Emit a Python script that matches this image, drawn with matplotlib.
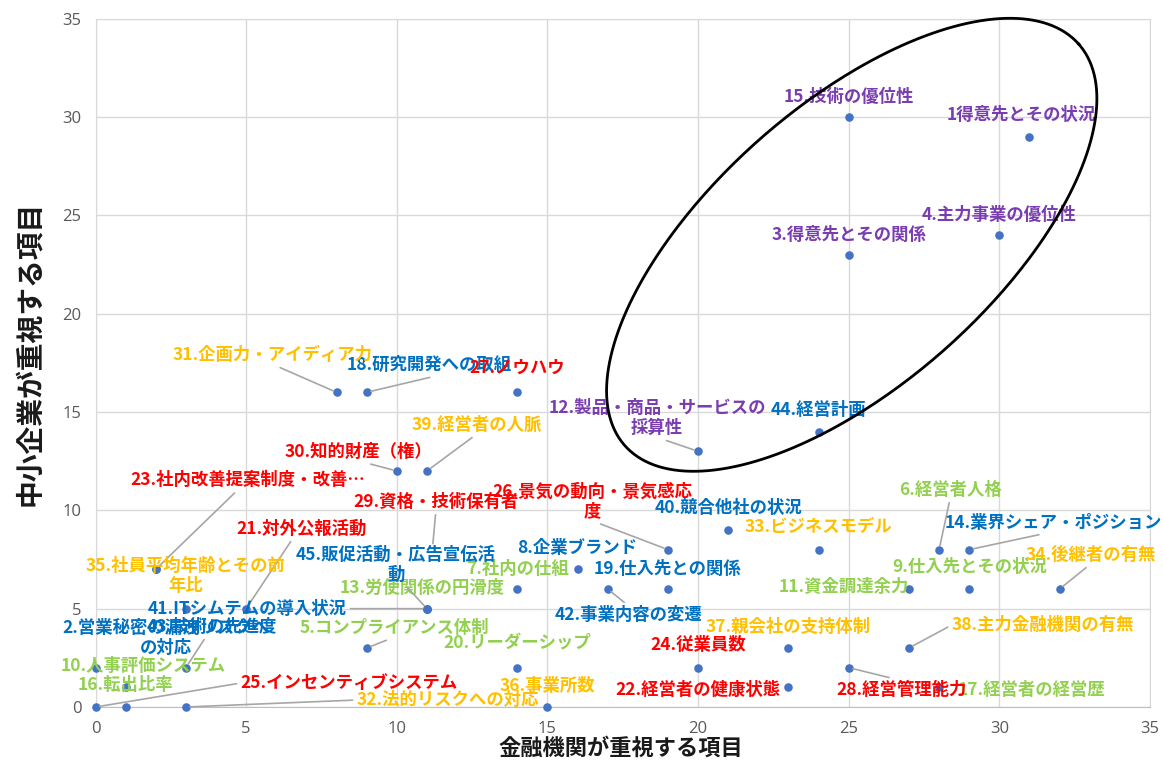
import numpy as np
import matplotlib
matplotlib.use('Agg')
import matplotlib.pyplot as plt

plt.rcParams['font.family'] = ['Noto Sans CJK JP', 'DejaVu Sans']

# ---------------- data ----------------
labels = [
    "1得意先とその状況", "2.営業秘密の漏洩リスクへ\nの対応", "3.得意先とその関係", "4.主力事業の優位性",
    "5.コンプライアンス体制", "6.経営者人格", "7.社内の仕組", "8.企業ブランド", "9.仕入先とその状況",
    "10.人事評価システム", "11.資金調達余力", "12.製品・商品・サービスの\n採算性", "13.労使関係の円滑度",
    "14.業界シェア・ポジション", "15.技術の優位性", "16.転出比率", "17.経営者の経営歴", "18.研究開発への取組",
    "19.仕入先との関係", "20.リーダーシップ", "21.対外公報活動", "22.経営者の健康状態",
    "23.社内改善提案制度・改善…", "24.従業員数", "25.インセンティブシステム", "26.景気の動向・景気感応\n度",
    "27.ノウハウ", "28.経営管理能力", "29.資格・技術保有者", "30.知的財産（権）", "31.企画力・アイディア力",
    "32.法的リスクへの対応", "33.ビジネスモデル", "34.後継者の有無", "35.社員平均年齢とその前\n年比",
    "36.事業所数", "37.親会社の支持体制", "38.主力金融機関の有無", "39.経営者の人脈", "40.競合他社の状況",
    "41.ITシムテムの導入状況", "42.事業内容の変遷", "43.技術の先進度", "44.経営計画", "45.販促活動・広告宣伝活\n動",
]
# 金融機関が重視する項目 (x)
fin_x = [31, 3, 25, 30, 9, 28, 14, 16, 29, 0, 27, 20, 1, 29, 25, 1, 28, 9, 19, 14, 5, 23, 2, 20, 0,
         19, 14, 25, 11, 10, 8, 3, 24, 32, 2, 15, 23, 27, 11, 21, 11, 17, 3, 24, 11]
# 中小企業が重視する項目 (y)
sme_y = [29, 5, 23, 24, 3, 8, 6, 7, 6, 2, 6, 13, 0, 8, 30, 1, 1, 16, 6, 2, 5, 1, 7, 2, 0,
         8, 16, 2, 5, 12, 16, 0, 8, 6, 7, 0, 3, 3, 12, 9, 5, 6, 2, 14, 5]
groups = ['P', 'B', 'P', 'P', 'G', 'G', 'G', 'B', 'G', 'G', 'G', 'P', 'G', 'B', 'P', 'G', 'G', 'B',
          'B', 'G', 'R', 'R', 'R', 'R', 'R', 'R', 'R', 'R', 'R', 'R', 'O', 'O', 'O', 'O', 'O', 'O',
          'O', 'O', 'O', 'B', 'B', 'B', 'B', 'B', 'B']
ticks = [0, 5, 10, 15, 20, 25, 30, 35]
xlabel = "金融機関が重視する項目"
ylabel = "中小企業が重視する項目"

# ---------------- layout / style ----------------
group_colors = {'P': '#7A3DB0', 'B': '#0070C0', 'R': '#FF0000', 'O': '#FFC000', 'G': '#92D050'}
# label offsets in pixels (dx, dy up) relative to the marker
label_off = [
    (-8, 22), (-20, -29), (0, 20), (0, 20), (28, 20), (11, 60), (0, 20), (0, 21), (0, 22),
    (48, 2), (-65, 2), (-41, 33), (297, 119), (84, 27), (0, 20), (0, 2), (92, -3), (63, 27),
    (0, 20), (0, 24), (55, 80), (-91, -3), (92, 89), (0, 23), (254, 24), (-76, 48),
    (0, 24), (53, -22), (9, 107), (-38, 19), (-64, 37), (262, 7), (0, 23), (31, 34), (30, -7),
    (0, 21), (0, 21), (134, 23), (50, 46), (0, 22), (-180, 0), (21, -26), (26, 41), (0, 22), (-31, 44),
]
# leader lines: index -> (relpos_x, relpos_y, shrinkB in points)
leaders = {
    4: (0.5, 0, 3), 5: (0.5, 0, 3), 11: (0.5, 0, 3), 13: (0.5, 0, 3), 17: (0.58, 0, 3),
    20: (0.44, 0, 3), 22: (0.46, 0, 3), 24: (0, 0.5, 3), 25: (0.5, 0, 3), 27: (0.5, 1, 3),
    28: (0.5, 0, 47), 29: (0.5, 0, 3), 30: (0.5, 0, 3), 31: (0, 0.5, 3), 33: (0.5, 0, 3),
    37: (0, 0.5, 3), 38: (0.5, 0, 3), 40: (1, 0.5, 3), 41: (0.5, 1, 3), 42: (0.46, 0, 3),
    44: (0.54, 0, 3),
}

W, H = 1163, 765
fig = plt.figure(figsize=(W / 100, H / 100), dpi=100)
x0, x1, y0, y1 = 95.5, 1150, 707, 18.6
ax = fig.add_axes([x0 / W, 1 - y0 / H, (x1 - x0) / W, (y0 - y1) / H])
ax.set_xlim(0, 35)
ax.set_ylim(0, 35)
ax.set_xticks(ticks)
ax.set_yticks(ticks)
ax.grid(True, color='#D9D9D9', lw=1)
ax.set_axisbelow(True)
for s in ax.spines.values():
    s.set_color('#D9D9D9')
ax.spines['bottom'].set_color('#BFBFBF')
ax.tick_params(length=0, labelsize=12, labelcolor='#595959', pad=10)
for t in ax.get_xticklabels() + ax.get_yticklabels():
    t.set_fontfamily(['Open Sans', 'DejaVu Sans'])

ax.scatter(fin_x, sme_y, s=38, color='#4472C4', zorder=3, clip_on=False, linewidths=0)

for i, lab in enumerate(labels):
    kw = {}
    if i in leaders:
        rx, ry, sb = leaders[i]
        kw['arrowprops'] = dict(arrowstyle='-', color='#A6A6A6', lw=1.2, relpos=(rx, ry),
                                shrinkA=1, shrinkB=sb)
    ax.annotate(lab, xy=(fin_x[i], sme_y[i]), xytext=label_off[i], textcoords='offset pixels',
                ha='center', va='center', multialignment='center', color=group_colors[groups[i]],
                fontsize=12.5, fontweight='bold', zorder=5, annotation_clip=False, linespacing=1.15, **kw)

# highlight ellipse (drawn in pixel geometry, converted to data units)
px_per_x = (x1 - x0) / 35
px_per_y = (y0 - y1) / 35
ecx, ecy = 25.1, 23.5
ea, eb, eth = 303, 140, np.deg2rad(41.5)
t = np.linspace(0, 2 * np.pi, 400)
dxp = ea * np.cos(t) * np.cos(eth) - eb * np.sin(t) * np.sin(eth)
dyp = ea * np.cos(t) * np.sin(eth) + eb * np.sin(t) * np.cos(eth)
ax.plot(ecx + dxp / px_per_x, ecy + dyp / px_per_y, color='black', lw=2.0, zorder=6, clip_on=False)

ax.set_xlabel(xlabel, fontsize=16, fontweight='bold', color='#1a1a1a')
ax.set_ylabel(ylabel, fontsize=20, fontweight='bold', color='#1a1a1a')
ax.xaxis.set_label_coords((621 - x0) / (x1 - x0), (y0 - 737) / (y0 - y1))
ax.yaxis.set_label_coords((44 - x0) / (x1 - x0), (y0 - 353) / (y0 - y1))

fig.savefig('out.png', dpi=100)
